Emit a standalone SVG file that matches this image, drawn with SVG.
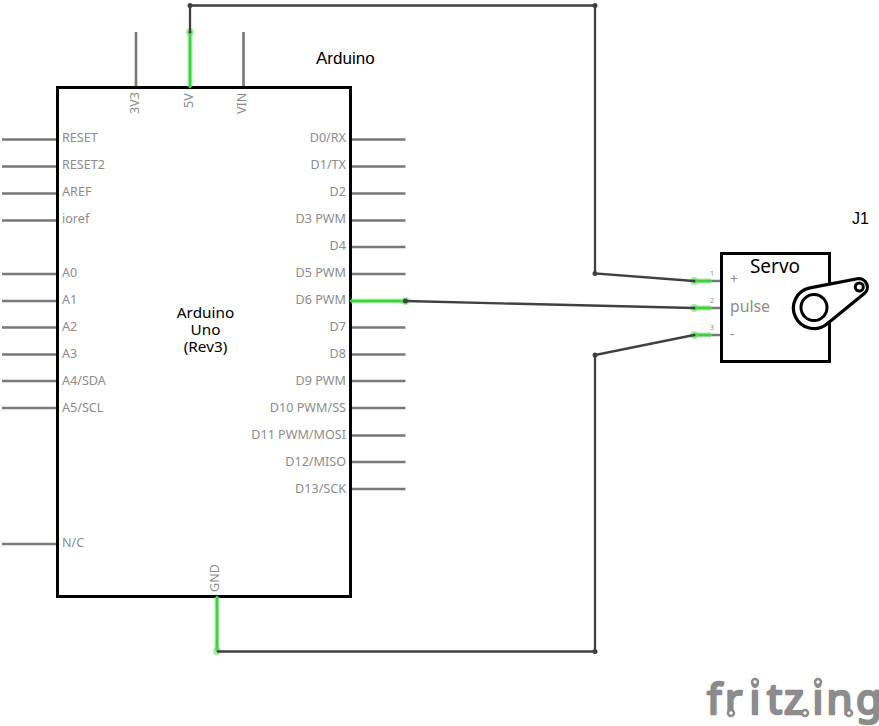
<svg xmlns="http://www.w3.org/2000/svg" width="879" height="726" viewBox="0 0 879 726">
<style>
text{font-family:"Noto Sans","Open Sans","DejaVu Sans",sans-serif}
.l{font-size:12.600px;fill:#8c8c8c}
.e{text-anchor:end}
.t{font-size:15.300px;fill:#000}
.a{font-family:"Liberation Sans",Arial,sans-serif;fill:#000}
.m{text-anchor:middle}
.pin{stroke:#787878;stroke-width:2.6;fill:none}
.g{stroke:#3fd03f;stroke-width:2.6;fill:none;stroke-linecap:round}
.h{stroke:#7fe07f;stroke-width:5;fill:none;opacity:.6}
.w{stroke:#404040;stroke-width:2.300;fill:none}
.b{fill:none;stroke:#000;stroke-width:3}
.j{fill:#404040}
.halo{fill:#5fe05f;opacity:.55}
.ring{fill:#fff;stroke:#8c8c8c;stroke-width:2.500}
</style>
<rect width="879" height="726" fill="#fff"/>
<g id="arduino">
<path class="pin" d="M136 32V87M243.500 32V87M2 139.500H57M2 166.500H57M2 193.500H57M2 220.500H57M2 274H57M2 301H57M2 327.500H57M2 354.500H57M2 381H57M2 408H57M2 544H57M351 139.500H405.500M351 166.500H405.500M351 193.500H405.500M351 220.500H405.500M351 247H405.500M351 274H405.500M351 327.500H405.500M351 354.500H405.500M351 381H405.500M351 408H405.500M351 435.500H405.500M351 462H405.500M351 489H405.500"/>
<rect class="b" x="57.500" y="87.500" width="293" height="509"/>
<text class="l" x="62" y="142">RESET</text><text class="l" x="62" y="169">RESET2</text><text class="l" x="62" y="196">AREF</text><text class="l" x="62" y="223">ioref</text>
<text class="l" x="62" y="277">A0</text><text class="l" x="62" y="304">A1</text><text class="l" x="62" y="331">A2</text><text class="l" x="62" y="358">A3</text><text class="l" x="62" y="385">A4/SDA</text><text class="l" x="62" y="412">A5/SCL</text><text class="l" x="62" y="547">N/C</text>
<text class="l e" x="346" y="142">D0/RX</text><text class="l e" x="346" y="169">D1/TX</text><text class="l e" x="346" y="196">D2</text><text class="l e" x="346" y="223">D3 PWM</text><text class="l e" x="346" y="250">D4</text><text class="l e" x="346" y="277">D5 PWM</text><text class="l e" x="346" y="304">D6 PWM</text><text class="l e" x="346" y="331">D7</text><text class="l e" x="346" y="358">D8</text><text class="l e" x="346" y="385">D9 PWM</text><text class="l e" x="346" y="412">D10 PWM/SS</text><text class="l e" x="346" y="439">D11 PWM/MOSI</text><text class="l e" x="346" y="466">D12/MISO</text><text class="l e" x="346" y="493">D13/SCK</text>
<text class="l" transform="translate(139 114) rotate(-90)">3V3</text>
<text class="l" transform="translate(193 108) rotate(-90)">5V</text>
<text class="l" transform="translate(246 114) rotate(-90)">VIN</text>
<text class="l" transform="translate(219 592) rotate(-90)">GND</text>
<text class="t m" x="205.500" y="318">Arduino</text><text class="t m" x="205.500" y="335">Uno</text><text class="t m" x="205.500" y="352">(Rev3)</text>
<text class="a" x="316" y="64" style="font-size:17px">Arduino</text>
</g>
<g id="servo">
<path class="pin" d="M694 281H721M694 308H721M694 335H721"/>
<rect class="b" x="721.500" y="253.500" width="108" height="108"/>
<path d="M810 287.900L857.400 278.700A8.500 8.500 0 0 1 864.300 293.600L826.900 323.900A20.500 20.500 0 1 1 810 287.900Z" fill="#fff" stroke="#000" stroke-width="3.200" stroke-linejoin="round"/>
<circle cx="814" cy="307.500" r="13" fill="none" stroke="#000" stroke-width="3"/>
<circle cx="859.300" cy="287" r="4" fill="none" stroke="#000" stroke-width="3"/>
<text class="t m" x="775" y="273" style="font-size:19px">Servo</text>
<text class="l" x="730" y="284" style="font-size:14px">+</text>
<text class="l" x="730" y="312" style="font-size:15.800px">pulse</text>
<text class="l" x="730" y="339" style="font-size:14px">-</text>
<text class="l m" x="712" y="276" style="font-size:7px">1</text>
<text class="l m" x="712" y="303" style="font-size:7px">2</text>
<text class="l m" x="712" y="330" style="font-size:7px">3</text>
<text class="a" x="852" y="224" style="font-size:16px">J1</text>
</g>
<g id="connectors">
<path class="h" d="M190 32V87M217 597V651M351 301H405.500M694 281H711M694 308H711M694 335H711"/>
<path class="g" d="M190 32V87M217 597V651M351 301H405.500M694 281H711M694 308H711M694 335H711"/>
<circle class="halo" cx="190" cy="32" r="4"/><circle class="halo" cx="217" cy="651" r="4"/><circle class="halo" cx="405.500" cy="301" r="4"/><circle class="halo" cx="694" cy="281" r="4"/><circle class="halo" cx="694" cy="308" r="4"/><circle class="halo" cx="694" cy="335" r="4"/>
<path class="w" d="M190 32V5.500H595V273.500L694 281M405.500 301L694 308M694 335L595 355V651.500H217"/>
<circle class="j" cx="190" cy="5.500" r="2.500"/><circle class="j" cx="595" cy="5.500" r="2.500"/><circle class="j" cx="595" cy="273.500" r="2.500"/><circle class="j" cx="595" cy="355" r="2.500"/><circle class="j" cx="595" cy="651.500" r="2.500"/><circle class="j" cx="405.500" cy="301" r="2.500"/><circle class="j" cx="190" cy="32" r="1.500"/><circle class="j" cx="694" cy="281" r="1.500"/><circle class="j" cx="694" cy="308" r="1.500"/><circle class="j" cx="694" cy="335" r="1.500"/>
</g>
<g id="logo">
<text x="707 725 749.500 767 784 812.500 826.500 856" y="713.500" style="font-family:'Noto Sans',sans-serif;font-size:42px;fill:#8c8c8c" stroke="#8c8c8c" stroke-width="2.500" stroke-linejoin="round">fritzing</text>
<circle class="ring" cx="755" cy="682" r="3"/><circle class="ring" cx="818" cy="682" r="3"/><circle class="ring" cx="731" cy="713" r="3"/><circle class="ring" cx="805" cy="713" r="3"/><circle class="ring" cx="849" cy="713" r="3"/>
</g>
</svg>
